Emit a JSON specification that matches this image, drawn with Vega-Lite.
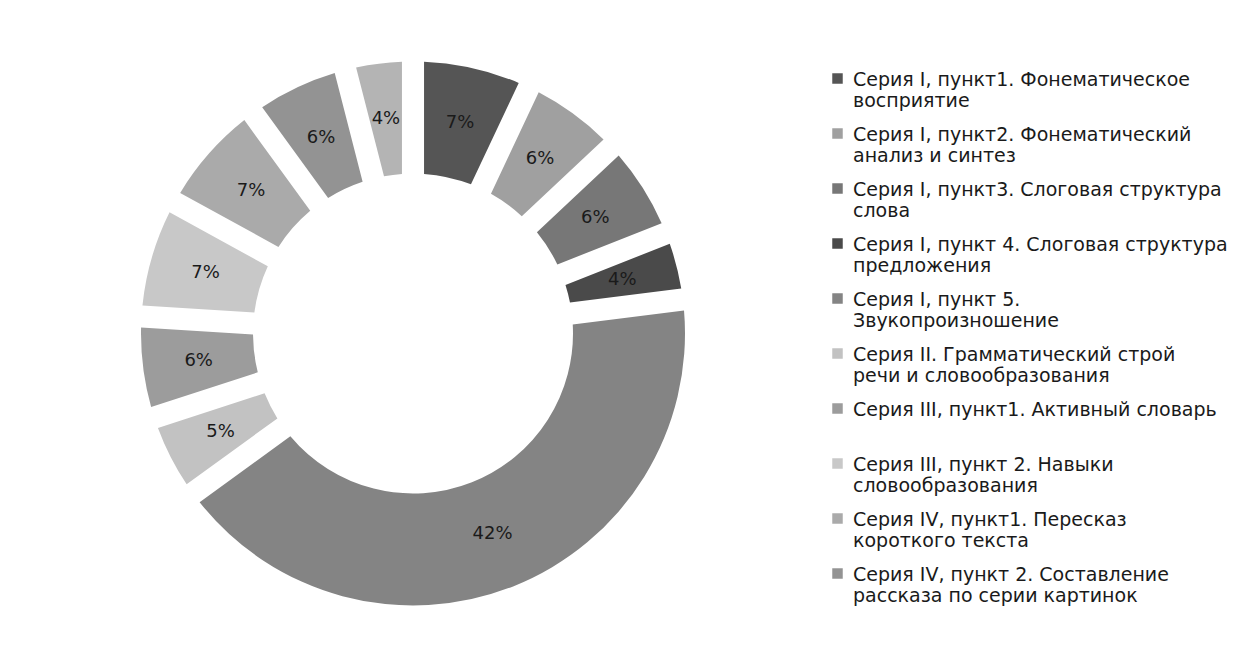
{
  "$schema": "https://vega.github.io/schema/vega-lite/v6.json",
  "width": 810,
  "height": 633,
  "padding": {"left": 8, "top": 17, "right": 0, "bottom": 0},
  "background": "white",
  "config": {"view": {"stroke": null}},
  "data": {
    "values": [
      {"name": "Серия I, пункт1. Фонематическое|восприятие", "value": 0.07, "order": 1},
      {"name": "Серия I, пункт2. Фонематический|анализ и синтез", "value": 0.06, "order": 2},
      {"name": "Серия I, пункт3. Слоговая структура|слова", "value": 0.06, "order": 3},
      {"name": "Серия I, пункт 4. Слоговая структура|предложения", "value": 0.04, "order": 4},
      {"name": "Серия I, пункт 5.|Звукопроизношение", "value": 0.42, "order": 5},
      {"name": "Серия II. Грамматический строй|речи и словообразования", "value": 0.05, "order": 6},
      {"name": "Серия III, пункт1. Активный словарь|", "value": 0.06, "order": 7},
      {"name": "Серия III, пункт 2. Навыки|словообразования", "value": 0.07, "order": 8},
      {"name": "Серия IV, пункт1. Пересказ|короткого текста", "value": 0.07, "order": 9},
      {"name": "Серия IV, пункт 2. Составление|рассказа по серии картинок", "value": 0.06, "order": 10},
      {"name": "Серия V", "value": 0.04, "order": 11}
    ]
  },
  "encoding": {
    "theta": {"field": "value", "type": "quantitative", "stack": true},
    "order": {"field": "order", "type": "quantitative"}
  },
  "layer": [
    {
      "mark": {"type": "arc", "innerRadius": 160, "outerRadius": 272, "padAngle": 0.07},
      "encoding": {
        "color": {
          "field": "name",
          "type": "nominal",
          "scale": {
            "domain": [
              "Серия I, пункт1. Фонематическое|восприятие",
              "Серия I, пункт2. Фонематический|анализ и синтез",
              "Серия I, пункт3. Слоговая структура|слова",
              "Серия I, пункт 4. Слоговая структура|предложения",
              "Серия I, пункт 5.|Звукопроизношение",
              "Серия II. Грамматический строй|речи и словообразования",
              "Серия III, пункт1. Активный словарь|",
              "Серия III, пункт 2. Навыки|словообразования",
              "Серия IV, пункт1. Пересказ|короткого текста",
              "Серия IV, пункт 2. Составление|рассказа по серии картинок",
              "Серия V"
            ],
            "range": ["#555555", "#a0a0a0", "#777777", "#4a4a4a", "#848484", "#c2c2c2", "#9c9c9c", "#c8c8c8", "#aaaaaa", "#939393", "#b4b4b4"]
          },
          "legend": {
            "orient": "none",
            "legendX": 820,
            "legendY": 52,
            "title": null,
            "values": [
              "Серия I, пункт1. Фонематическое|восприятие",
              "Серия I, пункт2. Фонематический|анализ и синтез",
              "Серия I, пункт3. Слоговая структура|слова",
              "Серия I, пункт 4. Слоговая структура|предложения",
              "Серия I, пункт 5.|Звукопроизношение",
              "Серия II. Грамматический строй|речи и словообразования",
              "Серия III, пункт1. Активный словарь|",
              "Серия III, пункт 2. Навыки|словообразования",
              "Серия IV, пункт1. Пересказ|короткого текста",
              "Серия IV, пункт 2. Составление|рассказа по серии картинок"
            ],
            "labelExpr": "split(datum.label, '|')",
            "symbolType": "square",
            "symbolSize": 110,
            "symbolStrokeWidth": 0,
            "labelFont": "DejaVu Sans",
            "labelFontSize": 19,
            "labelColor": "#1a1a1a",
            "labelLimit": 400,
            "labelOffset": 6,
            "rowPadding": 13,
            "encode": {"labels": {"update": {"dy": {"value": 1}}}}
          }
        }
      }
    },
    {
      "mark": {"type": "text", "radius": 216, "font": "DejaVu Sans", "fontSize": 18, "fill": "#1a1a1a"},
      "encoding": {
        "text": {"field": "value", "type": "quantitative", "format": ".0%"}
      }
    }
  ]
}
